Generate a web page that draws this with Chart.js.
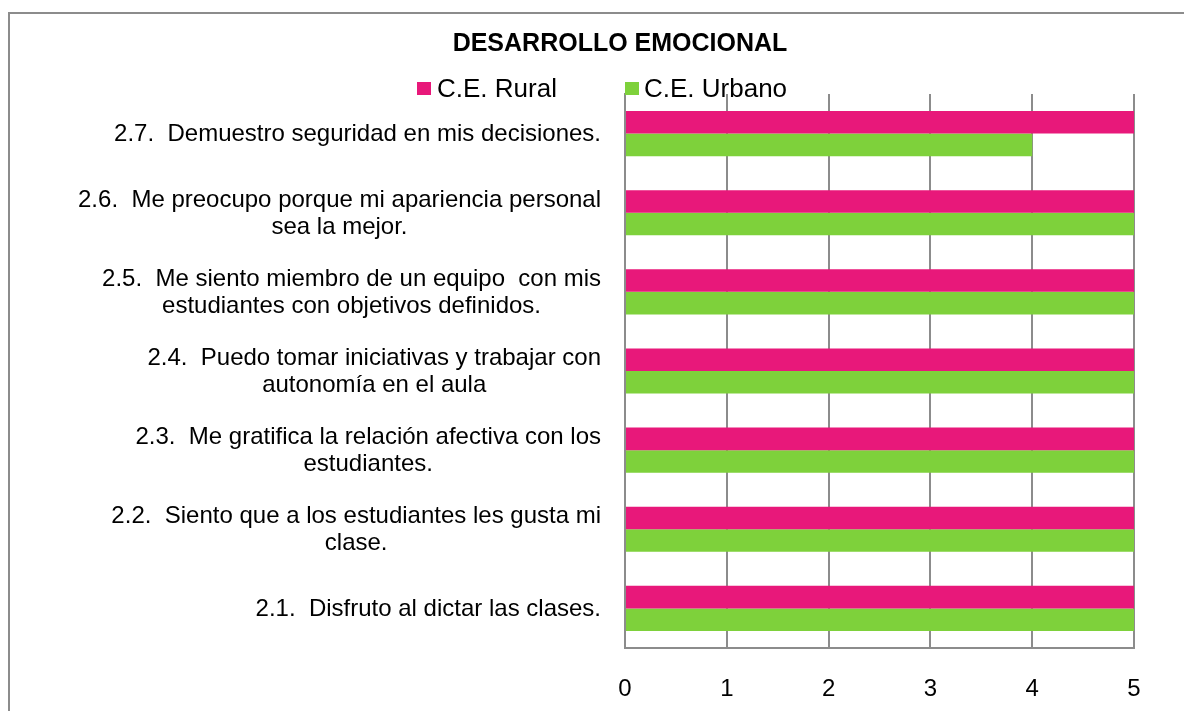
<!DOCTYPE html>
<html>
<head>
<meta charset="utf-8">
<script src="https://cdn.jsdelivr.net/npm/chart.js@4"></script>
<style>
  html, body { margin: 0; padding: 0; background: #fff; overflow: hidden; }
  #wrap { position: absolute; left: 0; top: 0; width: 1184px; height: 711px; }
</style>
</head>
<body>
<div id="wrap"><canvas id="c" width="1184" height="711"></canvas></div>
<script>
const chartTitle = 'DESARROLLO EMOCIONAL';
const categories = [
  ['2.7.  Demuestro seguridad en mis decisiones.'],
  ['2.6.  Me preocupo porque mi apariencia personal', 'sea la mejor.'],
  ['2.5.  Me siento miembro de un equipo  con mis', 'estudiantes con objetivos definidos.'],
  ['2.4.  Puedo tomar iniciativas y trabajar con', 'autonomía en el aula'],
  ['2.3.  Me gratifica la relación afectiva con los', 'estudiantes.'],
  ['2.2.  Siento que a los estudiantes les gusta mi', 'clase.'],
  ['2.1.  Disfruto al dictar las clases.']
];
const seriesNames = ['C.E. Rural', 'C.E. Urbano'];
const ruralValues = [5, 5, 5, 5, 5, 5, 5];
const urbanoValues = [4, 5, 5, 5, 5, 5, 5];
const xTickValues = [0, 1, 2, 3, 4, 5];

const FONT = '"Liberation Sans", Arial, sans-serif';
const PINK = '#E8187A';
const GREEN = '#7ED13B';
const GRAY = '#8c8c8c';

const framePlugin = {
  id: 'frame',
  beforeDraw(chart) {
    const ctx = chart.ctx;
    ctx.save();
    ctx.strokeStyle = GRAY;
    ctx.lineWidth = 2;
    ctx.beginPath();
    ctx.moveTo(9, chart.height + 5);
    ctx.lineTo(9, 13);
    ctx.lineTo(chart.width + 5, 13);
    ctx.stroke();
    ctx.restore();
  }
};

const categoryLabelPlugin = {
  id: 'catLabels',
  afterDraw(chart) {
    const ctx = chart.ctx;
    const ys = chart.scales.y;
    ctx.save();
    ctx.font = '24px ' + FONT;
    ctx.fillStyle = '#000';
    ctx.textAlign = 'center';
    ctx.textBaseline = 'middle';
    const right = ys.right - 24;
    const lh = 27;
    chart.data.labels.forEach((lab, i) => {
      const lines = Array.isArray(lab) ? lab : [lab];
      const w = Math.max(...lines.map(l => ctx.measureText(l).width));
      const cx = right - w / 2;
      const y = ys.getPixelForValue(i);
      lines.forEach((l, j) => {
        ctx.fillText(l, cx, y + (j - (lines.length - 1) / 2) * lh + 1);
      });
    });
    ctx.restore();
  }
};

const legendPlugin = {
  id: 'customLegend',
  afterDraw(chart) {
    const ctx = chart.ctx;
    const pos = [{ box: 417, text: 437 }, { box: 625, text: 644 }];
    ctx.save();
    ctx.font = '26px ' + FONT;
    ctx.textAlign = 'left';
    ctx.textBaseline = 'alphabetic';
    chart.data.datasets.forEach((ds, i) => {
      const p = pos[i];
      ctx.fillStyle = ds.backgroundColor;
      ctx.fillRect(p.box, 82, 14, 13);
      ctx.fillStyle = '#000';
      ctx.fillText(ds.label, p.text, 97);
    });
    ctx.restore();
  }
};

new Chart(document.getElementById('c'), {
  type: 'bar',
  data: {
    labels: categories,
    datasets: [
      { label: seriesNames[0], data: ruralValues, backgroundColor: PINK, borderWidth: 0,
        categoryPercentage: 0.57, barPercentage: 1.0 },
      { label: seriesNames[1], data: urbanoValues, backgroundColor: GREEN, borderWidth: 0,
        categoryPercentage: 0.57, barPercentage: 1.0 }
    ]
  },
  options: {
    indexAxis: 'y',
    responsive: false,
    animation: false,
    devicePixelRatio: 1,
    layout: { padding: { left: 56, right: 0, top: 0, bottom: 0 } },
    plugins: {
      legend: { display: false },
      tooltip: { enabled: false },
      title: {
        display: true,
        text: chartTitle,
        color: '#000',
        font: { family: FONT, size: 25, weight: 'bold' },
        padding: { top: 29, bottom: 35 }
      }
    },
    scales: {
      x: {
        type: 'linear',
        position: 'bottom',
        min: 0,
        max: 5,
        afterBuildTicks(scale) { scale.ticks = xTickValues.map(v => ({ value: v })); },
        ticks: { stepSize: 1, color: '#000', font: { family: FONT, size: 24 }, padding: 27 },
        grid: { color: GRAY, lineWidth: 2, drawTicks: false },
        border: { display: true, color: GRAY, width: 2 },
        afterFit(scale) { scale.height = 63; }
      },
      y: {
        type: 'category',
        position: 'left',
        ticks: { display: false },
        grid: { display: false, drawTicks: false },
        border: { display: true, color: GRAY, width: 2 },
        afterFit(scale) { scale.width = 569; }
      },
      yRight: {
        type: 'linear',
        position: 'right',
        display: true,
        ticks: { display: false },
        grid: { display: false, drawTicks: false },
        border: { display: false },
        afterFit(scale) { scale.width = 50; }
      }
    }
  },
  plugins: [framePlugin, categoryLabelPlugin, legendPlugin]
});
</script>
</body>
</html>
